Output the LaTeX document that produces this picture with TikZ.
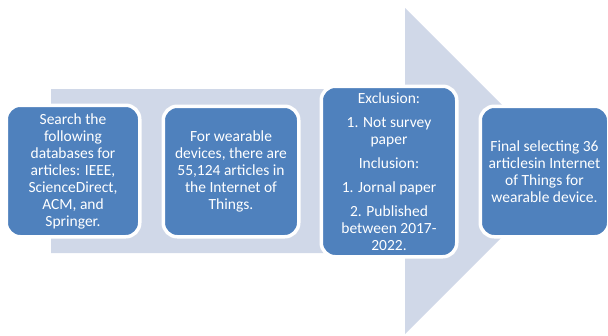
\documentclass[tikz,border=0pt]{standalone}
\usepackage{fontspec}
\setmainfont{Carlito}
\definecolor{boxblue}{HTML}{4F81BD}
\definecolor{arrowc}{HTML}{D0D8E8}
\tikzset{
  stage/.style={fill=boxblue, draw=white, line width=3.5pt, rounded corners=14pt,
    text=white, align=center, inner sep=2pt,
    font=\fontsize{15.5pt}{17pt}\selectfont}
}
\begin{document}
\begin{tikzpicture}[x=1pt,y=-1pt]
\useasboundingbox (0,0) rectangle (608,335);
\fill[arrowc] (51,89) -- (405,89) -- (405,8) -- (568,171) -- (405,334) -- (405,253) -- (51,253) -- cycle;
\node[stage, minimum width=133.5pt, minimum height=131.5pt] (b1) at (73,171)
  {Search the\\following\\databases for\\articles: IEEE,\\ScienceDirect,\\ACM, and\\Springer.};
\node[stage, minimum width=135.5pt, minimum height=130.5pt] (b2) at (231,171.5)
  {For wearable\\devices, there are\\55,124 articles in\\the Internet of\\Things.};
\node[stage, minimum width=135.5pt, minimum height=170.5pt] (b3) at (389,171.5)
  {Exclusion:\\[7pt]1. Not survey\\paper\\[7pt]Inclusion:\\[7pt]1. Jornal paper\\[7pt]2. Published\\between 2017-\\2022.};
\node[stage, minimum width=128.5pt, minimum height=130.5pt] (b4) at (544.5,171.5)
  {Final selecting 36\\articlesin Internet\\of Things for\\wearable device.};
\end{tikzpicture}
\end{document}
